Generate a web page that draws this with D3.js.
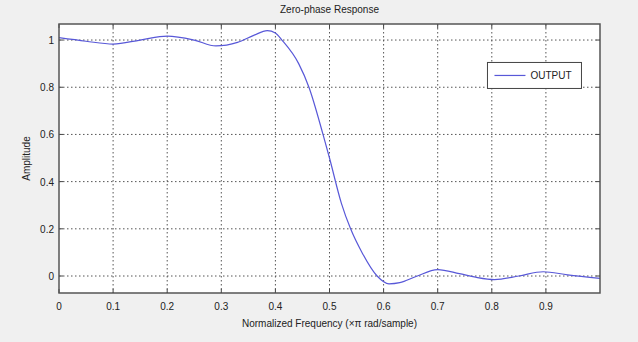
<!DOCTYPE html>
<html>
<head>
<meta charset="utf-8">
<script src="https://cdn.jsdelivr.net/npm/d3@7"></script>
<style>
  body { margin: 0; background: #f0f0f0; }
  svg { display: block; font-family: "Liberation Sans", Arial, sans-serif; }
</style>
</head>
<body>
<div id="chart"></div>
<script>
// Zero-phase response, values
const freq = [0, 0.05, 0.1, 0.15, 0.2, 0.25, 0.29, 0.33, 0.36, 0.385, 0.40, 0.412, 0.443, 0.462,
  0.488, 0.500, 0.522, 0.539, 0.560, 0.588, 0.61, 0.63, 0.66, 0.70, 0.74, 0.77, 0.805,
  0.85, 0.895, 0.94, 1.0];
const amp = [1.01, 0.995, 0.983, 1.0, 1.017, 1.0, 0.975, 0.99, 1.02, 1.04, 1.03, 1.0, 0.9, 0.8,
  0.6, 0.5, 0.308, 0.2, 0.1, 0.0, -0.033, -0.028, -0.002, 0.027, 0.01, -0.005, -0.015,
  0.0, 0.018, 0.005, -0.01];
const xTicks = [0, 0.1, 0.2, 0.3, 0.4, 0.5, 0.6, 0.7, 0.8, 0.9];
const yTicks = [0, 0.2, 0.4, 0.6, 0.8, 1];
const seriesName = "OUTPUT";

const width = 638, height = 342;
const margin = { top: 24, right: 38, bottom: 49, left: 59 };
const iw = width - margin.left - margin.right;
const ih = height - margin.top - margin.bottom;

const svg = d3.select("#chart").append("svg")
  .attr("width", width)
  .attr("height", height);

svg.append("rect")
  .attr("width", width).attr("height", height)
  .attr("fill", "#f0f0f0");

const g = svg.append("g")
  .attr("transform", `translate(${margin.left},${margin.top})`);

const x = d3.scaleLinear().domain([0, 1]).range([0, iw]);
const y = d3.scaleLinear().domain([-0.072, 1.068]).range([ih, 0]);

// plot background
g.append("rect")
  .attr("width", iw).attr("height", ih)
  .attr("fill", "#ffffff");

// grid
g.selectAll(".vgrid").data(xTicks.slice(1)).enter().append("line")
  .attr("x1", d => x(d)).attr("x2", d => x(d))
  .attr("y1", 0).attr("y2", ih)
  .attr("stroke", "#555").attr("stroke-width", 1)
  .attr("stroke-dasharray", "1.5,2.5");

g.selectAll(".hgrid").data(yTicks).enter().append("line")
  .attr("x1", 0).attr("x2", iw)
  .attr("y1", d => y(d)).attr("y2", d => y(d))
  .attr("stroke", "#555").attr("stroke-width", 1)
  .attr("stroke-dasharray", "1.5,2.5");

// tick marks inside the box
const tl = 4;
xTicks.forEach(d => {
  g.append("line").attr("x1", x(d)).attr("x2", x(d)).attr("y1", ih).attr("y2", ih - tl)
    .attr("stroke", "#444");
  g.append("line").attr("x1", x(d)).attr("x2", x(d)).attr("y1", 0).attr("y2", tl)
    .attr("stroke", "#444");
});
yTicks.forEach(d => {
  g.append("line").attr("x1", 0).attr("x2", tl).attr("y1", y(d)).attr("y2", y(d))
    .attr("stroke", "#444");
  g.append("line").attr("x1", iw).attr("x2", iw - tl).attr("y1", y(d)).attr("y2", y(d))
    .attr("stroke", "#444");
});

// the response curve
const line = d3.line()
  .x((d, i) => x(freq[i]))
  .y(d => y(d))
  .curve(d3.curveMonotoneX);

g.append("path")
  .datum(amp)
  .attr("d", line)
  .attr("fill", "none")
  .attr("stroke", "#5858d8")
  .attr("stroke-width", 1.2);

// box
g.append("rect")
  .attr("width", iw).attr("height", ih)
  .attr("fill", "none")
  .attr("stroke", "#555").attr("stroke-width", 1.5);

// tick labels
g.selectAll(".xl").data(xTicks).enter().append("text")
  .attr("x", d => x(d)).attr("y", ih + 17)
  .attr("text-anchor", "middle")
  .attr("font-size", "10px").attr("fill", "#222")
  .text(d => d);

g.selectAll(".yl").data(yTicks).enter().append("text")
  .attr("x", -5).attr("y", d => y(d) + 4)
  .attr("text-anchor", "end")
  .attr("font-size", "10px").attr("fill", "#222")
  .text(d => d);

// title and axis labels
svg.append("text")
  .attr("x", margin.left + iw / 2).attr("y", 13)
  .attr("text-anchor", "middle")
  .attr("font-size", "10px").attr("fill", "#222")
  .text("Zero-phase Response");

svg.append("text")
  .attr("x", margin.left + iw / 2).attr("y", 327)
  .attr("text-anchor", "middle")
  .attr("font-size", "10px").attr("fill", "#222")
  .text("Normalized Frequency (\u00d7\u03c0 rad/sample)");

svg.append("text")
  .attr("transform", `translate(30,${margin.top + ih / 2}) rotate(-90)`)
  .attr("text-anchor", "middle")
  .attr("font-size", "10px").attr("fill", "#222")
  .text("Amplitude");

// legend
const lg = g.append("g").attr("transform", `translate(${x(0.792)},${y(0.905)})`);
lg.append("rect")
  .attr("width", 94).attr("height", 26)
  .attr("fill", "#fff").attr("stroke", "#444").attr("stroke-width", 1);
lg.append("line")
  .attr("x1", 7).attr("x2", 38).attr("y1", 13).attr("y2", 13)
  .attr("stroke", "#5858d8").attr("stroke-width", 1.2);
lg.append("text")
  .attr("x", 43).attr("y", 17)
  .attr("font-size", "10px").attr("fill", "#222")
  .text(seriesName);
</script>
</body>
</html>
